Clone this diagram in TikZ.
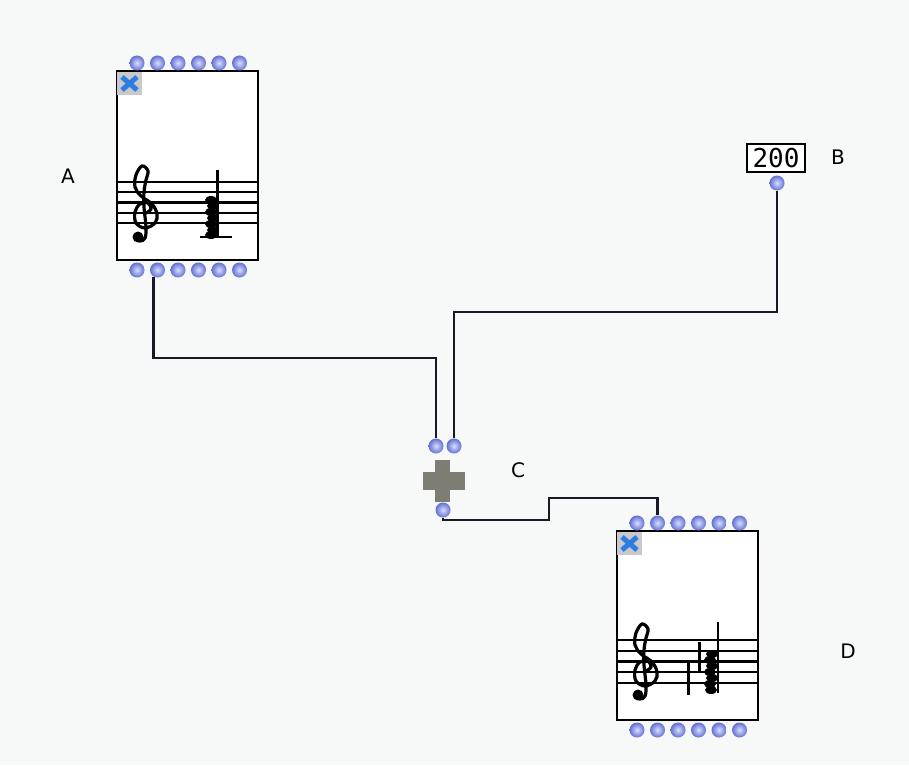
\documentclass[tikz,border=0pt]{standalone}
\usepackage{fontspec}
\setmainfont{DejaVu Sans}
\newfontfamily\monofont{DejaVu Sans Mono}
\definecolor{bgc}{RGB}{246,249,248}
\definecolor{inletin}{RGB}{215,222,255}
\definecolor{inletout}{RGB}{100,112,210}
\definecolor{wirec}{RGB}{25,25,35}
\definecolor{plusc}{RGB}{125,125,115}
\definecolor{xgray}{RGB}{200,200,205}
\definecolor{xblue}{RGB}{45,125,225}
\tikzset{
  inlet/.style={circle,minimum size=15pt,inner sep=0pt,inner color=inletin,outer color=inletout},
  wire/.style={line width=2.6pt,draw=wirec},
  scorebox/.style={draw,line width=2.4pt,fill=white,minimum width=141pt,minimum height=189pt,inner sep=0pt},
  lbl/.style={font=\fontsize{20}{20}\selectfont,inner sep=0pt},
  staffline/.style={line width=2.3pt},
  xicon/.style={fill=xgray,minimum width=25pt,minimum height=23pt,inner sep=0pt},
  gclef/.pic={
    \draw[line width=3.2pt,line cap=round] plot[smooth,tension=0.6] coordinates
      {(3,31) (8,27) (5,21) (-3,22) (-8,30) (-7,41) (2,46) (12,41) (14,32) (9,22)
       (-2,14) (-8,5) (-7,-7) (-1,-16) (5,-11) (3,-2) (1,10) (1,25) (3,45) (2,56) (-3,59) (-7,56)};
    \fill (-5,55) circle (5.5);
  }
}
\begin{document}
\begin{tikzpicture}[x=1pt,y=-1pt]
\fill[bgc] (0,0) rectangle (909,765);
\useasboundingbox (0,0) rectangle (909,765);

% ---------- box A ----------
\node[scorebox] (A) at (187.5,165.5) {};
\foreach \y in {182,192.3,202.6,213,223.3}
  \draw[staffline] (117,\y) -- (258,\y);
\pic at (143,182) {gclef};
\draw[line width=2.2pt] (200,237) -- (232,237);
\draw[line width=2.2pt] (217.5,170) -- (217.5,237);
\foreach \y/\dx in {200/0,206/2,212/0,218/2,224/0,230/2,235/0}
  \fill ({211+\dx},\y) ellipse [x radius=6,y radius=4];
\node[xicon] (Ax) at (129.5,83.5) {};
\draw[xblue,line width=5pt] (122,77) -- (137,90) (122,90) -- (137,77);
\foreach \i in {1,...,6} {
  \node[inlet] (Ain\i) at ({116.5+20.5*\i},63) {};
  \node[inlet] (Aout\i) at ({116.5+20.5*\i},270) {};
}
\node[lbl] (la) at (68,176) {A};

% ---------- box B ----------
\node[draw,line width=2.2pt,fill=white,minimum width=58pt,minimum height=28pt,inner sep=0pt,
      font=\monofont\fontsize{26}{26}\selectfont] (B) at (776,158) {200};
\node[inlet] (Bout) at (777,183) {};
\node[lbl] (lb) at (838,157) {B};

% ---------- plus C ----------
\coordinate (C) at (443,481);
\fill[plusc] (423,472) rectangle (465,490);
\fill[plusc] (435,460) rectangle (450,502);
\node[inlet] (Cin1) at (436,446) {};
\node[inlet] (Cin2) at (454,446) {};
\node[inlet] (Cout) at (443,510) {};
\node[lbl] (lc) at (518,470) {C};

% ---------- box D ----------
\node[scorebox] (D) at (687.5,625.5) {};
\foreach \y in {640,650.7,661.4,672.1,682.8}
  \draw[staffline] (617,\y) -- (758,\y);
\pic at (643,640) {gclef};
\draw[line width=3pt] (688,663) -- (688,695);
\draw[line width=3pt] (699,642) -- (699,672);
\draw[line width=2.2pt] (718,622) -- (718,693);
\foreach \y/\dx in {654/2,660/0,666/2,672/0,678/2,684/0,690/1}
  \fill ({710+\dx},\y) ellipse [x radius=6,y radius=4];
\node[xicon] (Dx) at (629.5,543.5) {};
\draw[xblue,line width=5pt] (622,537) -- (637,550) (622,550) -- (637,537);
\foreach \i in {1,...,6} {
  \node[inlet] (Din\i) at ({616.5+20.5*\i},523) {};
  \node[inlet] (Dout\i) at ({616.5+20.5*\i},730) {};
}
\node[lbl] (ld) at (848,651) {D};

% ---------- connectors ----------
\coordinate (k0) at (153.5,277);
\coordinate (k1) at (153.5,358);
\coordinate (k2) at (777,312);
\coordinate (k3) at (549,520);
\coordinate (k4) at (549,498);
\draw[wire] (k0) -- (k1) -| (Cin1.north);
\draw[wire] (Bout.south) -- (k2) -| (Cin2.north);
\draw[wire] (Cout.south) |- (k3) -- (k4) -| (Din2.north);
\end{tikzpicture}
\end{document}
